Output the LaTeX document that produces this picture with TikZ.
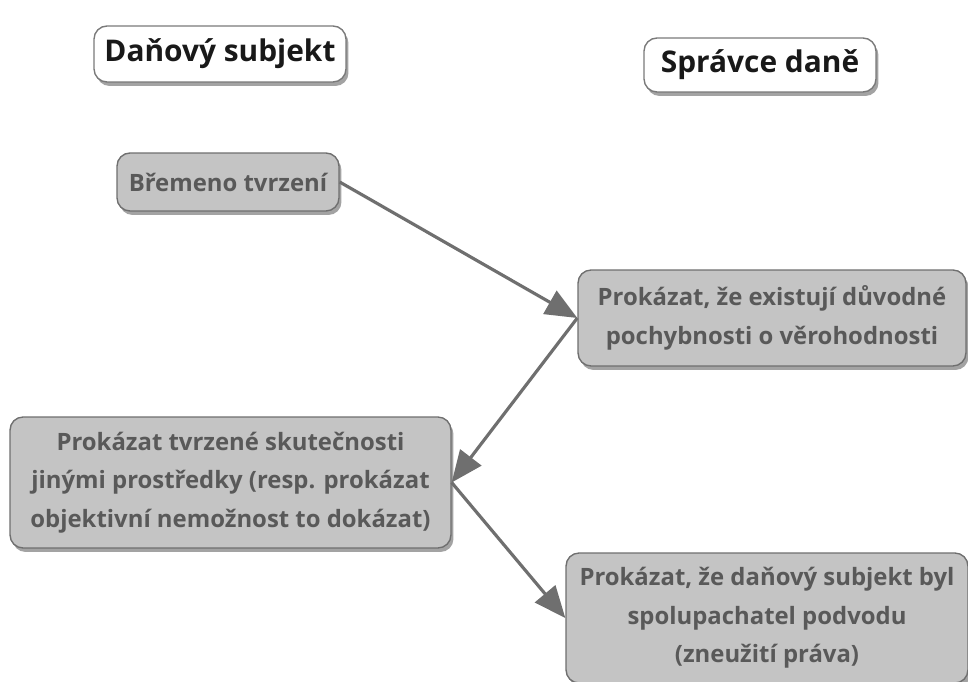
\documentclass[tikz,border=0pt]{standalone}
\usepackage{fontspec}
\setmainfont{Open Sans}
\usepackage{tikz}
\usetikzlibrary{arrows.meta,shadows}
\definecolor{boxfill}{HTML}{C4C4C4}
\definecolor{boxline}{HTML}{6F6F6F}
\definecolor{boxtext}{HTML}{595959}
\definecolor{headline}{HTML}{7A7A7A}
\tikzstyle{stin}=[drop shadow={shadow xshift=0.05cm,shadow yshift=-0.08cm,fill=black!60,opacity=0.6}]
\tikzstyle{head}=[draw=headline,line width=0.8pt,fill=white,rounded corners=0.26cm,stin,inner sep=0pt,
	font=\fontsize{17}{20}\selectfont\bfseries,text=black!90]
\tikzstyle{krok}=[draw=boxline,line width=0.8pt,fill=boxfill,rounded corners=0.26cm,stin,inner sep=0pt,
	align=center,font=\fontsize{13.6}{22}\selectfont\bfseries,text=boxtext]
\tikzstyle{sip}=[draw=boxline,line width=1.8pt,-{Triangle[length=18pt,width=15pt]}]

\begin{document}
\begin{tikzpicture}[x=0.02cm,y=-0.02cm]
	\useasboundingbox (0,0) rectangle (968,682);
	% hlavicky
	\node[head,minimum width=5.04cm,minimum height=1.12cm] (ds) at (220,54) {Daňový subjekt};
	\node[head,minimum width=4.64cm,minimum height=1.08cm] (sd) at (760,65) {Správce daně};
	% kroky
	\node[krok,minimum width=4.44cm,minimum height=1.16cm] (bt) at (228,182) {Břemeno tvrzení};
	\node[krok,minimum width=7.76cm,minimum height=1.92cm] (pd) at (772,318) {Prokázat, že existují důvodné\\pochybnosti o věrohodnosti};
	\node[krok,minimum width=8.82cm,minimum height=2.62cm] (pt) at (230.5,482.5) {Prokázat tvrzené skutečnosti\\jinými prostředky (resp. prokázat\\objektivní nemožnost to dokázat)};
	\node[krok,minimum width=8.04cm,minimum height=2.6cm] (ps) at (767,618) {Prokázat, že daňový subjekt byl\\spolupachatel podvodu\\(zneužití práva)};
	\draw [sip] (bt.east) to (pd.west);
	\draw [sip] (pd.west) to (pt.east);
	\draw [sip] (pt.east) to (ps.west);
\end{tikzpicture}
\end{document}
